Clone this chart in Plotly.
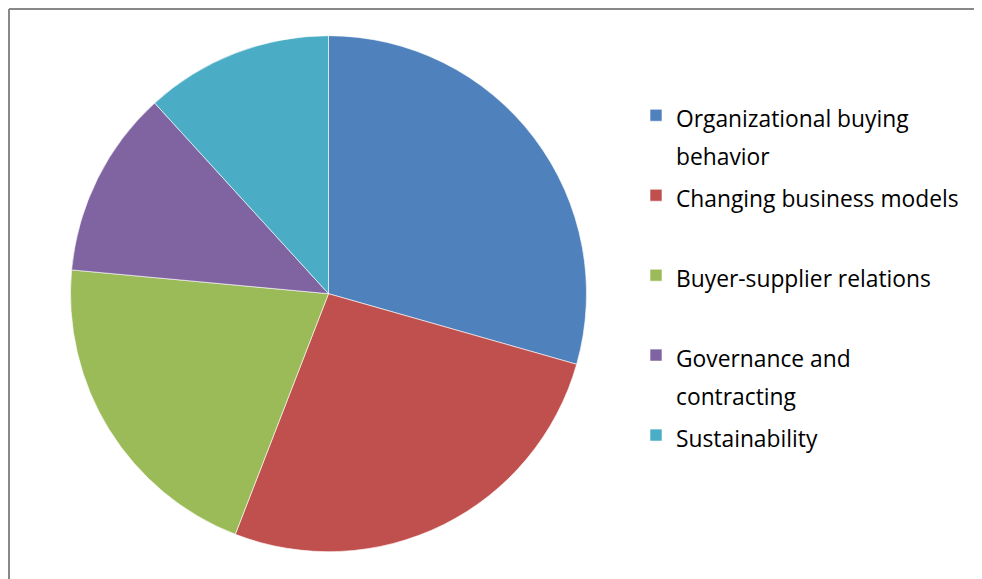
import plotly.graph_objects as go

categories = [
    "Organizational buying<br>behavior",
    "Changing business models",
    "Buyer-supplier relations",
    "Governance and<br>contracting",
    "Sustainability",
]
values = [10, 9, 7, 4, 4]
colors = ["#4F81BD", "#C0504D", "#9BBB59", "#8064A2", "#4BACC6"]

# page body has an 8px margin, so figure coordinates = screen - 8
W, H = 974, 571
TXT = 22.8

def lab(s):
    if "<br>" not in s:
        s = s + "<br> "
    return f"<span style='font-size:{TXT}px'>{s}</span>"

labels = [lab(c) for c in categories]

fig = go.Figure(
    go.Pie(
        labels=labels,
        values=values,
        sort=False,
        direction="clockwise",
        rotation=0,
        marker=dict(colors=colors, line=dict(color="rgba(255,255,255,0.6)", width=1)),
        textinfo="none",
        hoverinfo="label+value+percent",
        domain=dict(x=[62.5 / W, 578.5 / W], y=[1 - 543.7 / H, 1 - 27.7 / H]),
    )
)

fig.update_layout(
    width=W,
    height=H,
    margin=dict(l=0, r=0, t=0, b=0),
    paper_bgcolor="white",
    plot_bgcolor="white",
    font=dict(family="Open Sans", color="#000000"),
    legend=dict(
        x=628 / W,
        xanchor="left",
        y=1 - 81.5 / H,
        yanchor="top",
        valign="top",
        font=dict(size=29.6, family="Open Sans", color="#000000"),
        bgcolor="rgba(0,0,0,0)",
        traceorder="normal",
    ),
    shapes=[
        dict(type="line", xref="paper", yref="paper",
             x0=1 / W, x1=1 / W, y0=0, y1=1 - 1 / H,
             line=dict(color="#888888", width=2)),
        dict(type="line", xref="paper", yref="paper",
             x0=1 / W, x1=1, y0=1 - 1 / H, y1=1 - 1 / H,
             line=dict(color="#888888", width=2)),
    ],
)

fig.write_html("out.html")
